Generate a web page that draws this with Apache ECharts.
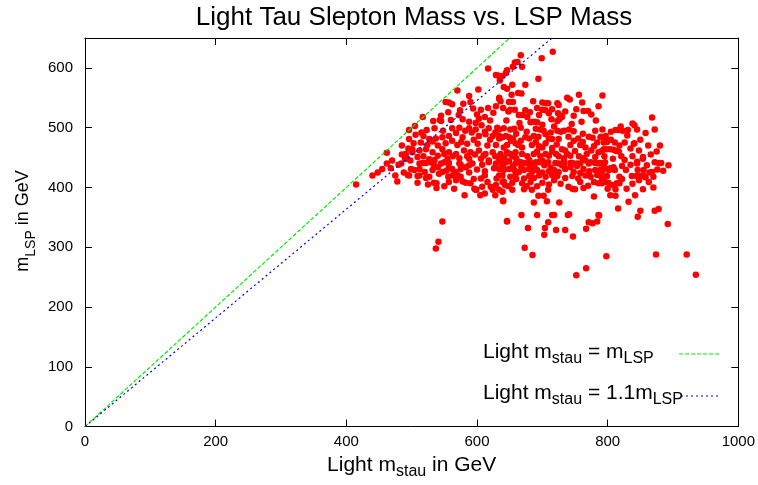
<!DOCTYPE html>
<html>
<head>
<meta charset="utf-8">
<script src="https://cdn.jsdelivr.net/npm/echarts@6/dist/echarts.min.js"></script>
<style>html,body{margin:0;padding:0;background:#fff}#chart{width:758px;height:485px}</style>
</head>
<body>
<div id="chart"></div>
<script>
// ---- chart texts ----
const chartTitle = 'Light Tau Slepton Mass vs. LSP Mass';
const xAxisTitle = '{n|Light m}{s|stau}{n| in GeV}';
const yAxisTitle = '{n|m}{s|LSP}{n| in GeV}';
const legendEqual = '{n|Light m}{s|stau}{n| = m}{s|LSP}';
const legendRatio = '{n|Light m}{s|stau}{n| = 1.1m}{s|LSP}';

// ---- axes ----
const xTickValues = [0, 200, 400, 600, 800, 1000];
const yTickValues = [0, 100, 200, 300, 400, 500, 600];
const xLimits = [0, 1000];
const yLimits = [0, 650];

// ---- reference lines (m_stau = m_LSP, m_stau = 1.1 m_LSP) ----
const equalMassLine = [[0, 0], [1000, 1000]];
const ratioMassLine = [[0, 0], [1100, 1000]];

// ---- scan points: [light m_stau, m_LSP] in GeV ----
const scatterPoints = [
 [415,405],[440,420],[448,425],[455,431],[462,440],[462,458],[468,432],[470,445],[475,420],[480,438],[485,455],[490,448],[495,465],[478,410],[488,425],[493,448],[501,464],
 [617,599],[629,588],[633,587],[635,579],[646,565],[634,548],[636,544],[570,562],[602,564],[588,553],[552,543],[557,542],[562,539],[579,540],[590,543],[594,532],[606,530],[617,533],[629,536],[574,529],[556,526],[517,518],[533,511],[543,513],[545,511],[572,521],[588,510],[603,515],[496,496],[523,496],[535,499],[562,499],[573,500],[588,499],[607,504],[618,499],[631,500],
 [506,488],[518,486],[527,481],[537,482],[547,484],[557,486],[578,484],[592,492],[603,486],[613,489],[624,486],[634,482],[644,486],[496,481],[514,475],[524,471],[540,470],[552,474],[570,471],[585,473],[601,473],[616,470],[629,471],[641,467],[485,470],[491,456],[501,459],[512,462],[522,464],[532,459],[547,464],[557,459],[568,456],[580,462],[590,459],[603,462],[613,456],[624,459],[636,456],[646,459],[490,451],[509,451],[527,447],[540,453],[555,448],[573,449],[588,448],[606,448],[618,445],[634,448],[512,440],[522,441],[534,438],[557,441],[575,438],[593,440],[608,438],[629,440],[644,442],
 [484,440],[499,431],[504,429],[517,441],[529,442],[545,440],[550,442],[494,421],[496,420],[509,419],[512,420],[522,416],[527,418],[509,408],[534,408],[538,407],[538,399],[542,423],[547,426],[556,418],[562,420],[570,421],[575,431],[583,434],[588,437],[557,409],[568,412],[578,410],[583,408],[590,407],[596,398],[599,396],[606,415],[608,401],[621,401],[624,396],[616,409],[629,404],[634,420],[639,409],[643,404],[618,442],[634,442],[573,440],[557,434],[562,431],[532,429],[512,431],
 [581,387],[605,387],[640,378],[612,390],[628,387],[598,396],[547,343],[541,309],[537,298],[646,344],
 [640,377],[646,343],[668,354],[678,332],[673,299],[685,287],[692,354],[709,342],[704,332],[703,321],[715,354],[718,354],[721,329],[735,329],[739,354],[741,355],[747,318],[726,375],[707,377],[694,386],[702,386],[687,375],[767,331],[771,342],[777,340],[784,343],[786,354],[779,385],[798,285],[767,265],[752,253],
 [636,442],[649,444],[659,440],[667,442],[682,440],[690,442],[700,445],[707,441],[725,440],[733,444],[743,441],[753,440],[766,445],[774,442],[786,440],[796,442],
 [634,431],[641,429],[649,431],[657,429],[664,426],[672,429],[680,431],[684,426],[692,429],[700,425],[710,427],[718,429],[725,426],[735,431],[743,434],[753,436],[763,431],[781,429],[791,426],[799,431],
 [639,420],[651,418],[659,421],[672,415],[680,419],[687,416],[695,420],[705,418],[715,421],[723,419],[735,416],[746,419],[766,420],[774,418],[784,421],[791,416],[799,419],
 [641,410],[654,408],[669,407],[682,409],[700,408],[710,405],[740,401],[746,398],[750,397],[758,409],[763,399],[779,409],[786,407],[796,409],
 [634,396],[639,393],[654,396],[672,397],[684,396],[709,396],
 [874,288],[921,288],[935,254],[892,339],[872,361],[878,364],[850,361],[846,351],[816,365],[832,376],[842,387],[854,397],[787,353],[893,437],[872,442],[878,441],[882,441],[870,418],[863,409],[868,426],[864,425],[855,429],[846,429],[837,419],[844,419],[850,419],[855,419],[858,417],[828,429],[829,398],[812,397],[804,387],[812,386],[807,404],[814,407],[818,407],[801,408],[791,407],[802,429],[807,431],[811,429],[789,429],[818,418],[788,441],[854,448],
 [792,554],[786,536],[868,517],[838,507],[841,504],[792,497],[812,496],[816,496],[823,495],[831,496],[790,485],[797,486],[794,475],[799,476],[811,475],[826,475],[840,473],[841,474],[818,470],[794,464],[804,464],[809,463],[813,461],[817,460],[821,452],[854,451],[789,441],[804,432],[809,434],
 [716,627],[699,616],[667,621],[658,609],[662,610],[669,602],[655,602],[646,596],[644,591],[638,586],[694,582],[654,572],[674,572],[641,568],[663,558],[668,557],[634,550],[653,555],[756,555],[738,550],[742,547],[686,544],[649,543],[655,543],[700,542],[705,541],[709,541],[723,541],[725,538],[761,542],[692,533],[715,531],[640,533],[651,530],[658,530],[674,529],[700,530],[705,529],[763,528],[770,528],[664,521],[670,521],[677,518],[748,520],[724,524],[728,520],[714,514],[723,511],[726,514],[730,518],[682,509],[687,510],[692,509],
 [641,499],[651,497],[657,498],[667,500],[690,498],[697,497],[702,495],[713,492],[723,495],[728,493],[733,495],[741,497],[634,497],[634,486],[639,484],[649,484],[655,482],[674,484],[680,482],[687,486],[694,485],[710,482],[715,481],[725,481],[740,485],[755,482],[781,495],[771,485],[777,483],[789,484],[796,484],
 [646,471],[659,474],[663,471],[669,467],[684,471],[695,469],[700,467],[715,466],[730,464],[735,462],[743,471],[758,471],[766,467],[779,469],[786,459],[791,461],[799,464],
 [651,456],[654,452],[659,459],[669,456],[677,452],[687,456],[697,452],[705,456],[710,453],[721,456],[725,452],[738,456],[743,453],[756,452],[768,456],[781,451],
 [664,442],[672,441],[677,440],[684,440],[695,442],[709,442],[720,441],[733,438],[746,441],[758,440],[771,440],[781,441],[794,440],
 [600,522],[612,518],[625,525],[648,527],[681,526],[695,521],[710,524],[735,527],[752,531],[775,522],[782,512],[760,510],[745,506],[700,505],[665,508],[645,512],[620,512],[598,508],[578,514],[560,513],[545,520],
 [505,503],[515,492],[548,495],[568,491],[582,495],[598,497],[612,493],[628,492],[660,490],[676,493],[705,489],[718,502],[748,494],[762,490],[805,493],[820,502],[845,497],[858,491],[872,497],[850,480],[862,470],[875,460],
 [503,474],[532,477],[562,478],[576,476],[595,480],[620,480],[652,478],[667,478],[690,476],[705,474],[722,472],[748,478],[762,476],[784,475],[805,480],[830,487],[835,465],[848,462],[866,455],[880,470],
 [498,445],[518,452],[535,446],[550,456],[563,452],[585,452],[597,455],[610,453],[628,452],[642,450],[660,449],[680,446],[692,460],[715,460],[733,449],[750,461],[762,449],[775,462],[795,452],[808,448],[826,446],[838,452],[845,443],[860,437],[885,428],
 [520,426],[540,434],[553,428],[567,426],[588,425],[600,430],[612,427],[626,432],[640,436],[655,436],[668,434],[688,435],[703,437],[713,433],[730,437],[748,426],[758,424],[772,427],[786,422],[794,435],[822,436],[835,438],[845,440],[876,430],
 [525,405],[550,402],[565,398],[575,418],[595,414],[612,420],[630,415],[648,402],[660,414],[676,402],[692,402],[718,412],[728,406],[755,415],[770,403],[800,398],[822,414],[838,406],[848,412],[870,400]
];

const FONT = 'Liberation Sans, Arial, Helvetica, sans-serif';
function richStyles(main, sub) {
  return {
    n: { fontFamily: FONT, fontSize: main, fontWeight: 'normal', lineHeight: 30, color: '#000' },
    s: { fontFamily: FONT, fontSize: sub, fontWeight: 'normal', lineHeight: 15, verticalAlign: 'bottom', color: '#000' }
  };
}

const chart = echarts.init(document.getElementById('chart'), null, { renderer: 'canvas' });

const axisLineStyle = { show: true, onZero: false, lineStyle: { color: '#000', width: 1 } };
const tickStyle = { show: true, inside: true, length: 7, lineStyle: { color: '#000', width: 1 } };
const plainNumber = v => String(v);

chart.setOption({
  animation: false,
  backgroundColor: '#fff',
  title: [
    { text: chartTitle, left: 414, top: 5, textAlign: 'center', padding: 0,
      textStyle: { fontFamily: FONT, fontSize: 26, fontWeight: 'normal', color: '#000' } },
    { text: legendEqual, left: 483, top: 337, padding: 0,
      textStyle: { fontWeight: 'normal', rich: richStyles(21, 16) } },
    { text: legendRatio, left: 483, top: 378, padding: 0,
      textStyle: { fontWeight: 'normal', rich: richStyles(21, 16) } }
  ],
  grid: { left: 85, right: 16, top: 38, bottom: 54, containLabel: false },
  xAxis: [
    { type: 'value', position: 'bottom', min: xLimits[0], max: xLimits[1], interval: 200,
      axisLine: axisLineStyle, axisTick: tickStyle, splitLine: { show: false },
      axisLabel: { color: '#000', fontFamily: FONT, fontSize: 15, margin: 8, formatter: plainNumber },
      name: xAxisTitle, nameLocation: 'middle', nameGap: 19,
      nameTextStyle: { rich: richStyles(21, 16) } },
    { type: 'value', position: 'top', min: xLimits[0], max: xLimits[1], interval: 200,
      axisLine: axisLineStyle, axisTick: tickStyle, splitLine: { show: false },
      axisLabel: { show: false } }
  ],
  yAxis: [
    { type: 'value', position: 'left', min: yLimits[0], max: yLimits[1], interval: 100,
      axisLine: axisLineStyle, splitLine: { show: false },
      axisTick: Object.assign({ customValues: yTickValues }, tickStyle),
      axisLabel: { color: '#000', fontFamily: FONT, fontSize: 15, margin: 12, customValues: yTickValues, formatter: plainNumber } },
    { type: 'value', position: 'right', min: yLimits[0], max: yLimits[1], interval: 100,
      axisLine: axisLineStyle, splitLine: { show: false },
      axisTick: Object.assign({ customValues: yTickValues }, tickStyle),
      axisLabel: { show: false } }
  ],
  graphic: [
    { type: 'text', x: 23, y: 221, rotation: Math.PI / 2, silent: true,
      style: { text: yAxisTitle, textAlign: 'center', textVerticalAlign: 'middle', rich: richStyles(18, 14) } },
    { type: 'line', silent: true, shape: { x1: 679, y1: 354, x2: 719, y2: 354 },
      style: { stroke: '#00ee00', lineWidth: 1.2, lineDash: [4, 2] } },
    { type: 'line', silent: true, shape: { x1: 681, y1: 396, x2: 718, y2: 396 },
      style: { stroke: '#0000ff', lineWidth: 1.2, lineDash: [2, 3] } }
  ],
  series: [
    { type: 'scatter', xAxisIndex: 0, yAxisIndex: 0, data: scatterPoints, symbol: 'circle', symbolSize: 6.5,
      itemStyle: { color: '#ff0000', opacity: 1 }, silent: true, z: 2 },
    { type: 'line', xAxisIndex: 0, yAxisIndex: 0, data: equalMassLine, symbol: 'none', clip: true, silent: true, z: 3,
      lineStyle: { color: '#00ee00', width: 1.2, type: [4, 2] } },
    { type: 'line', xAxisIndex: 0, yAxisIndex: 0, data: ratioMassLine, symbol: 'none', clip: true, silent: true, z: 3,
      lineStyle: { color: '#0000ff', width: 1.2, type: [2, 3] } }
  ]
});
</script>
</body>
</html>
